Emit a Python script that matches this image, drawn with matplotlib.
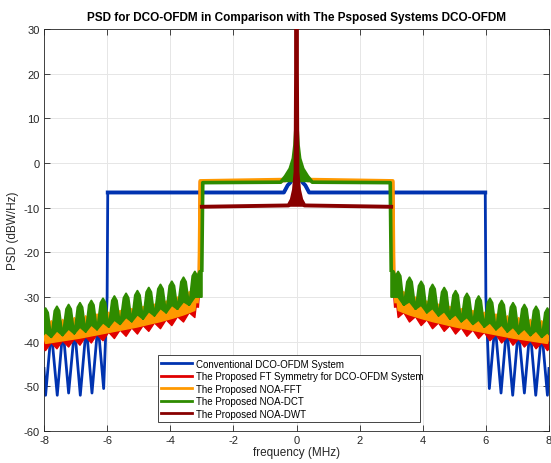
import numpy as np
import matplotlib
matplotlib.use("Agg")
import matplotlib.pyplot as plt
from matplotlib.lines import Line2D

plt.rcParams['font.family'] = ['Liberation Sans', 'DejaVu Sans']
plt.rcParams['axes.unicode_minus'] = False

# ---------------- text ----------------
title_text = "PSD for DCO-OFDM in Comparison with The Psposed Systems DCO-OFDM"
x_label = "frequency (MHz)"
y_label = "PSD (dBW/Hz)"
x_ticks = [-8, -6, -4, -2, 0, 2, 4, 6, 8]
y_ticks = [-60, -50, -40, -30, -20, -10, 0, 10, 20, 30]

labels = ["Conventional DCO-OFDM System",
          "The Proposed FT Symmetry for DCO-OFDM System",
          "The Proposed NOA-FFT",
          "The Proposed NOA-DCT",
          "The Proposed NOA-DWT"]
colors = ["#0033b0", "#e00000", "#ff9900", "#2e8b00", "#880000"]

# ---------------- data: positive-frequency half (spectra symmetric about 0 MHz) ----------------
# Conventional DCO-OFDM: centre bump, flat band to 6 MHz, then sidelobe peaks / nulls
blue_in_f  = [0.00, 0.08, 0.20, 0.28, 0.40, 5.98]
blue_in_db = [1.0, -3.0, -4.4, -5.0, -6.6, -6.6]
blue_oob_f  = [6.00, 6.11, 6.29, 6.48, 6.66, 6.85, 7.03, 7.22, 7.40, 7.58, 7.77, 7.95, 8.00]
blue_oob_db = [-30.0, -50.5, -36.0, -51.5, -36.5, -52.0, -37.0, -51.5, -37.0, -52.0, -37.5, -52.0, -46.0]

# in-band parts: centre spike, flat band, band-edge drop near 3 MHz
red_in_f    = [0.00, 0.04, 0.10, 0.20, 0.35, 3.04, 3.07, 3.14]
red_in_db   = [5.0, -0.5, -1.8, -3.0, -3.9, -4.2, -25.0, -32.0]
orange_in_f  = [0.00, 0.04, 0.10, 0.20, 0.35, 3.05, 3.08, 3.15]
orange_in_db = [6.0, -0.3, -1.5, -2.8, -3.7, -4.0, -24.5, -31.0]
green_centre_f  = [0.00, 0.05, 0.10, 0.20, 0.35, 0.50]
green_centre_db = [10.0, 4.0, 1.0, -1.3, -3.0, -4.3]
green_band_f    = [2.97, 3.00]
green_band_db   = [-4.4, -24.0]
dwt_in_f     = [0.00, 0.03, 0.08, 0.15, 0.25, 3.00]
dwt_in_db    = [40.0, -2.0, -6.0, -8.2, -9.5, -9.8]

# out-of-band sidelobes (positive side)
lobe_f  = [3.22, 3.58, 3.95, 4.31, 4.68, 5.04, 5.40, 5.77, 6.13, 6.50, 6.86, 7.22, 7.59, 7.95]
spike_f = [3.40, 3.77, 4.13, 4.50, 4.86, 5.22, 5.59, 5.95, 6.32, 6.68, 7.04, 7.41, 7.77, 8.13]

green_edge_f   = [3.00, 3.08]
green_edge_db  = [-24.0, -24.2]
green_edge_low = -30.0
green_peak_db     = [-24.3, -25.6, -26.5, -27.2, -27.9, -28.6, -29.2, -29.8, -30.3, -30.8, -31.3, -31.7, -32.1, -32.5]
green_shoulder_db = [-25.3, -26.6, -27.5, -28.2, -28.9, -29.6, -30.2, -30.8, -31.3, -31.8, -32.3, -32.7, -33.1, -33.5]
green_floor_db    = [-30.0, -31.0, -31.8, -32.5, -33.2, -33.9, -34.5, -35.1, -35.7, -36.2, -36.7, -37.1, -37.5, -37.9]
green_notch_db    = [-31.8, -32.7, -33.5, -34.2, -34.9, -35.5, -36.1, -36.7, -37.3, -37.8, -38.2, -38.6, -39.0, -39.4]

orange_edge_f   = [3.08, 3.15]
orange_edge_db  = [-24.5, -31.0]
orange_peak_db   = [-28.8, -30.0, -30.9, -31.6, -32.1, -32.6, -33.0, -33.4, -33.8, -34.2, -34.6, -35.0, -35.3, -35.6]
orange_trough_db = [-33.0, -34.0, -34.8, -35.5, -36.1, -36.7, -37.2, -37.7, -38.2, -38.7, -39.2, -39.6, -40.0, -40.4]

red_edge_f    = [3.07, 3.14]
red_edge_db   = [-25.0, -32.0]
red_peak_db   = [-29.8, -31.0, -31.9, -32.6, -33.1, -33.6, -34.0, -34.4, -34.8, -35.2, -35.6, -36.0, -36.3, -36.6]
red_trough_db = [-34.6, -35.6, -36.4, -37.1, -37.7, -38.3, -38.8, -39.3, -39.8, -40.3, -40.8, -41.2, -41.6, -42.0]
red_mid_db    = [-33.5, -34.4, -35.1, -35.8, -36.4, -36.9, -37.4, -37.9, -38.4, -38.9, -39.4, -39.8, -40.2, -40.6]

lobe_shoulder = 0.08   # half-width (MHz) of the rounded top of a DCT sidelobe (shape only)


def mirror(f, v):
    f = np.asarray(f, float)
    v = np.asarray(v, float)
    return np.concatenate([-f[::-1], f]), np.concatenate([v[::-1], v])


def interleave(a, b):
    out = []
    for p, q in zip(a, b):
        out += [p, q]
    return out


def draw_oob(ax, up_x, up_y, lo_x, lo_y, color, z, lw=1.0):
    xs = np.array(list(up_x) + list(lo_x)[::-1])
    ys = np.array(list(up_y) + list(lo_y)[::-1])
    for sgn in (1, -1):
        ax.fill(sgn * xs, ys, color=color, lw=lw, ec=color, zorder=z, joinstyle='round')


fig = plt.figure(figsize=(5.51, 4.64), dpi=100)
ax = fig.add_axes([44 / 551, 1 - 432 / 464, 505 / 551, 402 / 464])

# blue
bx, by = mirror(blue_in_f + blue_oob_f, blue_in_db + blue_oob_db)
ax.plot(bx, by, color=colors[0], lw=2.0, zorder=2, solid_joinstyle='round')
bx, by = mirror(blue_in_f, blue_in_db)
ax.plot(bx, by, color=colors[0], lw=2.8, zorder=2)

# red
x, y = mirror(red_in_f, red_in_db)
ax.plot(x, y, color=colors[1], lw=2.6, zorder=3)
draw_oob(ax, red_edge_f + interleave(lobe_f, spike_f),
         red_edge_db + interleave(green_floor_db, red_peak_db),
         [red_edge_f[0]] + interleave(lobe_f, spike_f),
         [red_edge_db[0]] + interleave(red_trough_db, red_mid_db), colors[1], 3)

# orange
x, y = mirror(orange_in_f, orange_in_db)
ax.plot(x, y, color=colors[2], lw=2.6, zorder=4)
draw_oob(ax, orange_edge_f + interleave(lobe_f, spike_f),
         orange_edge_db + interleave(green_floor_db, orange_peak_db),
         [orange_edge_f[0]] + lobe_f,
         [orange_edge_db[0]] + orange_trough_db, colors[2], 4)

# green
x, y = mirror(green_centre_f + green_band_f, green_centre_db + green_band_db)
ax.plot(x, y, color=colors[3], lw=2.6, zorder=5)
cx, cy = mirror(green_centre_f, green_centre_db)
ax.fill(cx, cy, color=colors[3], lw=0, zorder=5)
up_x, up_y = list(green_edge_f), list(green_edge_db)
for lf, sf, pk, sh, nt in zip(lobe_f, spike_f, green_peak_db, green_shoulder_db, green_notch_db):
    up_x += [lf - lobe_shoulder, lf, lf + lobe_shoulder, sf]
    up_y += [sh, pk, sh, nt]
draw_oob(ax, up_x, up_y,
         [green_edge_f[0]] + interleave(lobe_f, spike_f),
         [green_edge_low] + interleave(green_floor_db, green_notch_db), colors[3], 5, lw=1.4)

# dark red (NOA-DWT)
x, y = mirror(dwt_in_f, dwt_in_db)
ax.plot(x, y, color=colors[4], lw=2.8, zorder=6)
ax.fill(x, y, color=colors[4], lw=0, zorder=6)

# axes styling
ax.set_xlim(-8, 8)
ax.set_ylim(-60, 30)
ax.set_xticks(x_ticks)
ax.set_yticks(y_ticks)
ax.grid(True, color='#e6e6e6', lw=0.7, zorder=0)
ax.set_axisbelow(True)
ax.tick_params(direction='in', top=True, right=True, length=4, width=0.6,
               labelsize=8, colors='#262626', pad=3)
for s in ax.spines.values():
    s.set_color('#262626')
    s.set_linewidth(0.6)

ax.set_xlabel(x_label, fontsize=8.5, color='#262626')
ax.set_ylabel(y_label, fontsize=8.5, color='#262626')
ax.xaxis.set_label_coords(0.5, -0.037)
ax.yaxis.set_label_coords(-0.05, 0.5)
fig.text(296.5 / 551, 1 - 18 / 464, title_text, ha='center', va='center',
         fontsize=8.5, fontweight='bold', color='black')

handles = [Line2D([0], [0], color=c, lw=2) for c in colors]
leg = ax.legend(handles, labels, loc='lower left',
                bbox_to_anchor=(0.2257, 0.0224, 0.519, 0.167), mode='expand',
                fontsize=7, frameon=True, fancybox=False, edgecolor='#262626',
                framealpha=1, handlelength=3.2, handletextpad=0.35,
                labelspacing=0.25, borderpad=0.35, borderaxespad=0)
leg.get_frame().set_linewidth(0.6)
leg.set_zorder(10)

fig.savefig("out.png", dpi=100)
